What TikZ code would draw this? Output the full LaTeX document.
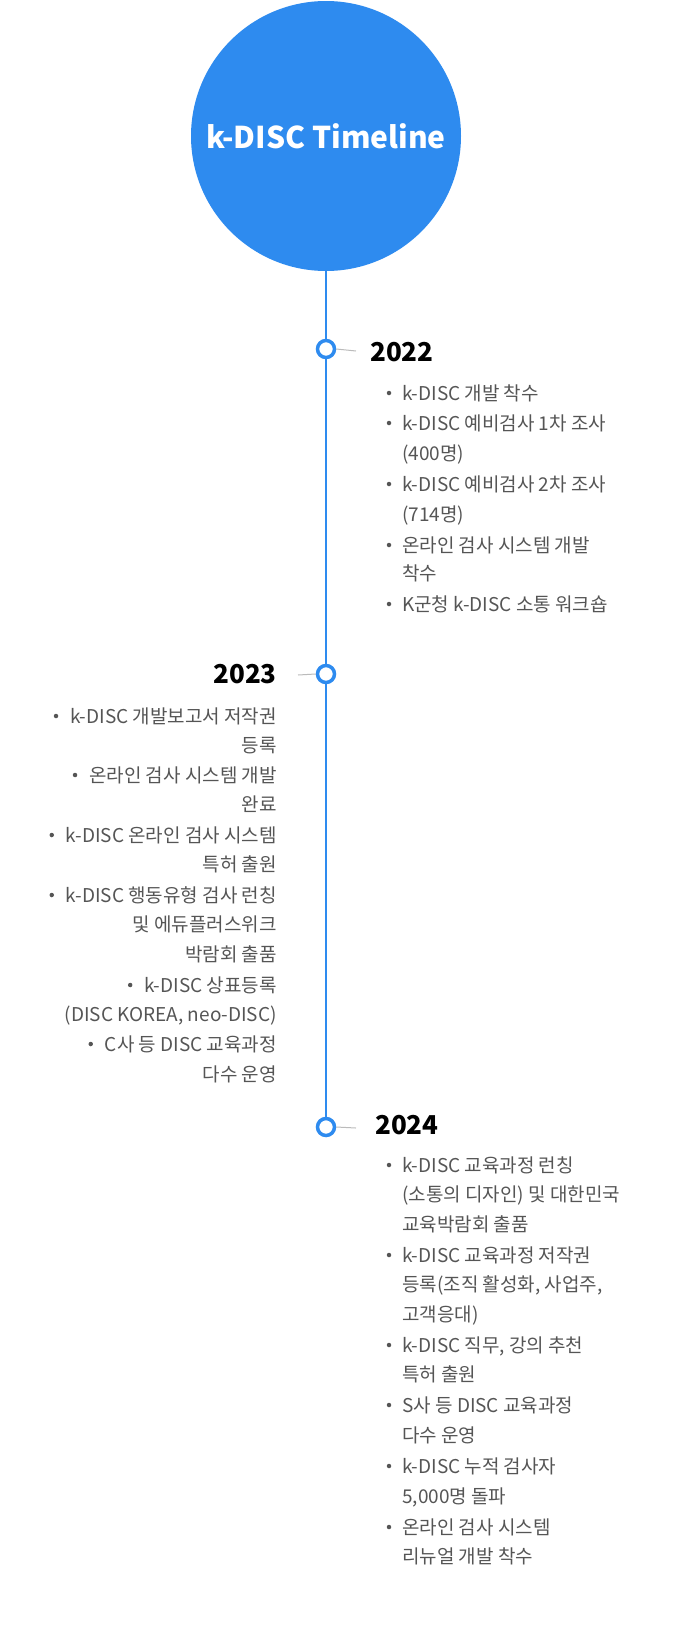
\documentclass[tikz,border=0pt]{standalone}
\usepackage{fontspec}
\setmainfont{Noto Sans CJK KR}
\definecolor{tblue}{HTML}{2E8BEF}
\definecolor{tgray}{HTML}{555555}
\definecolor{tline}{HTML}{BBBBBB}
\tikzset{
 txt/.style={font=\fontsize{19}{22}\selectfont, text=tgray, inner sep=0pt},
 yr/.style={font=\fontsize{26}{30}\selectfont\bfseries, text=black, inner sep=0pt},
 mark0/.style={circle, draw=tblue, line width=3.5pt, fill=white, minimum size=17pt, inner sep=0pt},
 bul/.style={circle, fill=tgray, minimum size=4.5pt, inner sep=0pt}
}
\newcommand{\Ltx}[4]{\node[txt, anchor=base west] (#1) at (#2,#3+7) {#4};}
\newcommand{\Lbul}[3]{\node[txt, anchor=base west] (#1) at (402,#2+7) {#3};
 \node[bul] (#1b) at (389,#2) {};}
\newcommand{\Rtx}[3]{\node[txt, anchor=base east] (#1) at (277,#2+7) {#3};}
\newcommand{\Rbul}[3]{\node[txt, anchor=base east] (#1) at (277,#2+7) {#3};
 \node[bul] (#1b) at ([xshift=-14pt,yshift=7pt]#1.base west) {};}
\begin{document}
\begin{tikzpicture}[x=1pt,y=-1pt]
\node[circle, fill=tblue, minimum size=270pt, inner sep=0pt] (top) at (326,136) {};
\node[font=\fontsize{30}{34}\selectfont\bfseries, text=white] (title) at (326,136) {k-DISC Timeline};
\node[mark0] (m1) at (326,349) {};
\node[mark0] (m2) at (326,674) {};
\node[mark0] (m3) at (326,1127) {};
\draw[tblue, line width=1.5pt] (top.south) -- (m1) -- (m2) -- (m3);
\coordinate (e1) at (356,351); \draw[tline, line width=1pt] (m1.east) -- (e1);
\coordinate (e2) at (298,675); \draw[tline, line width=1pt] (m2.west) -- (e2);
\coordinate (e3) at (356,1128); \draw[tline, line width=1pt] (m3.east) -- (e3);
% 2022
\node[yr, anchor=base west] (y1) at (370,361) {2022};
\Lbul{a1}{393}{k-DISC 개발 착수}
\Lbul{a2}{423}{k-DISC 예비검사 1차 조사}
\Ltx{a3}{402}{453}{(400명)}
\Lbul{a4}{484}{k-DISC 예비검사 2차 조사}
\Ltx{a5}{402}{514}{(714명)}
\Lbul{a6}{545}{온라인 검사 시스템 개발}
\Ltx{a7}{402}{573}{착수}
\Lbul{a8}{604}{K군청 k-DISC 소통 워크숍}
% 2023
\node[yr, anchor=base east] (y2) at (277,683) {2023};
\Rbul{b1}{716}{k-DISC 개발보고서 저작권}
\Rtx{b2}{745}{등록}
\Rbul{b3}{775}{온라인 검사 시스템 개발}
\Rtx{b4}{804}{완료}
\Rbul{b5}{835}{k-DISC 온라인 검사 시스템}
\Rtx{b6}{864}{특허 출원}
\Rbul{b7}{895}{k-DISC 행동유형 검사 런칭}
\Rtx{b8}{924}{및 에듀플러스위크}
\Rtx{b9}{954}{박람회 출품}
\Rbul{b10}{985}{k-DISC 상표등록}
\Rtx{b11}{1014}{(DISC KOREA, neo-DISC)}
\Rbul{b12}{1044}{C사 등 DISC 교육과정}
\Rtx{b13}{1074}{다수 운영}
% 2024
\node[yr, anchor=base west] (y3) at (375,1134) {2024};
\Lbul{c1}{1165}{k-DISC 교육과정 런칭}
\Ltx{c2}{402}{1194}{(소통의 디자인) 및 대한민국}
\Ltx{c3}{402}{1224}{교육박람회 출품}
\Lbul{c4}{1255}{k-DISC 교육과정 저작권}
\Ltx{c5}{402}{1284}{등록(조직 활성화, 사업주,}
\Ltx{c6}{402}{1314}{고객응대)}
\Lbul{c7}{1345}{k-DISC 직무, 강의 추천}
\Ltx{c8}{402}{1374}{특허 출원}
\Lbul{c9}{1405}{S사 등 DISC 교육과정}
\Ltx{c10}{402}{1435}{다수 운영}
\Lbul{c11}{1466}{k-DISC 누적 검사자}
\Ltx{c12}{402}{1496}{5,000명 돌파}
\Lbul{c13}{1527}{온라인 검사 시스템}
\Ltx{c14}{402}{1556}{리뉴얼 개발 착수}
\pgfresetboundingbox
\useasboundingbox (0,0) rectangle (676,1625);
\end{tikzpicture}
\end{document}
